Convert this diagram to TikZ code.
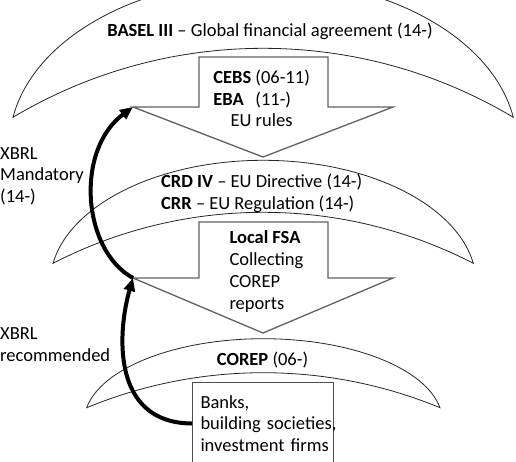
\documentclass[tikz,border=0pt]{standalone}
\usepackage{fontspec}
\setmainfont{Carlito}
\usetikzlibrary{arrows.meta}
\tikzset{
  crescent/.style={draw=black!85, line width=0.8pt, fill=white},
  blockarrow/.style={draw=black!62, line width=1.3pt, fill=white},
  txt/.style={inner sep=0pt, font=\fontsize{18.5}{21.7}\selectfont, text=black},
  firmbox/.style={txt, draw=black!70, line width=1pt, fill=white, text width=125pt,
    align=left, inner xsep=8pt, inner ysep=0pt, minimum height=82pt},
  flow/.style={line width=4pt, draw=black, -{Triangle[length=13pt,width=11pt]}}
}
% crescent: #1 left tip x, #2 right tip x, #3 tip y, #4 outer height, #5 inner sagitta
\newcommand{\drawcrescent}[5]{%
  \pgfmathsetmacro{\crC}{(#2-#1)/2}%
  \pgfmathsetmacro{\crX}{(#1+#2)/2}%
  \pgfmathsetmacro{\crR}{(\crC*(\crC/#5)+#5)/2}%
  \pgfmathsetmacro{\crA}{asin(\crC/\crR)}%
  \pgfmathsetmacro{\crL}{4/3*tan(\crA/2)*\crR}%
  \pgfmathsetmacro{\crU}{\crL*cos(\crA)}%
  \pgfmathsetmacro{\crV}{\crL*sin(\crA)}%
  \draw[crescent] (#1,#3)
    .. controls ({#1+0.083*\crC},{#3-0.577*#4}) and ({\crX-0.495*\crC},{#3-#4}) .. (\crX,{#3-#4})
    .. controls ({\crX+0.495*\crC},{#3-#4}) and ({#2-0.083*\crC},{#3-0.577*#4}) .. (#2,#3)
    .. controls ({#2-\crU},{#3-\crV}) and ({#1+\crU},{#3-\crV}) .. cycle;
}
\begin{document}
\begin{tikzpicture}[x=1pt,y=-1pt]
\clip (0,0) rectangle (516,461);
\fill[white] (0,0) rectangle (516,461);
% top level
\drawcrescent{13}{513.3}{117.3}{138}{69}
\node[txt, anchor=base] (basel) at (270,36.7) {\textbf{BASEL III} – Global financial agreement (14-)};
\draw[blockarrow] (199,57) -- (328,57) -- (328,107) -- (393,107) -- (263,157) -- (133,107) -- (199,107) -- cycle;
\coordinate (ebawing) at (133,107);
% (multi-line nodes: base anchor = baseline of last line)
\node[txt, anchor=base, align=center] (eba) at (261.6,126.7)
  {\textbf{CEBS} (06-11)\\\rlap{\textbf{EBA}}\hphantom{\textbf{CEBS}} \rlap{(11-)}\hphantom{(06-11)}\\EU rules};
% middle level
\drawcrescent{53}{473.3}{263.3}{103}{51}
\node[txt, anchor=base west, align=left] (crd) at (161,209)
  {\textbf{CRD IV} – EU Directive (14-)\\\textbf{CRR} – EU Regulation (14-)};
\draw[blockarrow] (199,222) -- (328,222) -- (328,278) -- (393,278) -- (263,333) -- (133,278) -- (199,278) -- cycle;
\coordinate (fsawing) at (133,278);
\node[txt, anchor=base west, align=left] (fsa) at (229.3,309)
  {\textbf{Local FSA}\\Collecting\\COREP\\reports};
% bottom level
\drawcrescent{86.7}{440}{407.7}{69}{35}
\node[txt, anchor=base] (corep) at (262.5,365) {\textbf{COREP} (06-)};
\node[firmbox, anchor=north west] (banks) at (192,382)
  {\mbox{Banks,}\\\mbox{building societies,}\\\mbox{investment firms}};
% side labels
\node[txt, anchor=base west, align=left] (mand) at (0,202.5) {XBRL\\Mandatory\\(14-)};
\node[txt, anchor=base west, align=left] (rec) at (0,361) {XBRL\\recommended};
% flows
\draw[flow] (banks.west) .. controls (110,423) and (118,330) .. (fsawing);
\draw[flow] (fsawing) .. controls (82,250) and (75,150) .. (ebawing);
\end{tikzpicture}
\end{document}
